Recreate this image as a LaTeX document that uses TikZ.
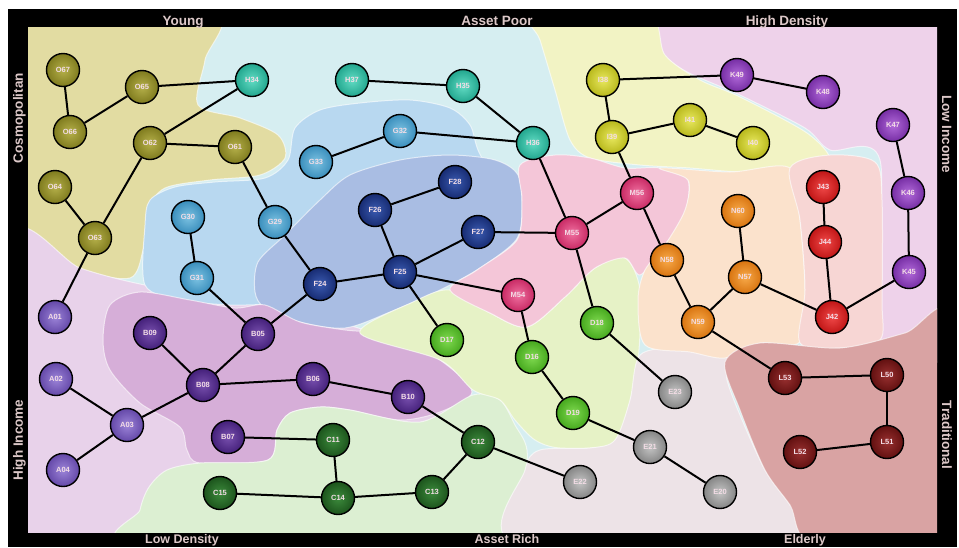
\documentclass[tikz,border=0pt]{standalone}
\usepackage{fontspec}
\setmainfont{Liberation Sans}
\definecolor{cH}{HTML}{D6EEF1}
\definecolor{cO}{HTML}{E2DCA2}
\definecolor{cG}{HTML}{B8D8F0}
\definecolor{cF}{HTML}{A9BDE3}
\definecolor{cA}{HTML}{E8D2EA}
\definecolor{cB}{HTML}{D6AED8}
\definecolor{cC}{HTML}{DCEFD2}
\definecolor{cD}{HTML}{E6F2C6}
\definecolor{cE}{HTML}{EDE3E7}
\definecolor{cM}{HTML}{F4C6D8}
\definecolor{cN}{HTML}{FBE2CC}
\definecolor{cJ}{HTML}{F7D6D4}
\definecolor{cK}{HTML}{EED2EA}
\definecolor{cI}{HTML}{F2F3C4}
\definecolor{cL}{HTML}{D9A3A3}
\definecolor{labelc}{HTML}{DCC8C8}
\definecolor{ntext}{HTML}{F3DDE6}
\definecolor{nO}{HTML}{7F7B1E}\definecolor{nOi}{HTML}{B5B04A}
\definecolor{nH}{HTML}{22A68E}\definecolor{nHi}{HTML}{62DCC4}
\definecolor{nG}{HTML}{3A8EBC}\definecolor{nGi}{HTML}{7CC2E2}
\definecolor{nF}{HTML}{172B72}\definecolor{nFi}{HTML}{3A5AB0}
\definecolor{nB}{HTML}{44207A}\definecolor{nBi}{HTML}{7850AE}
\definecolor{nA}{HTML}{6448A8}\definecolor{nAi}{HTML}{9C84D8}
\definecolor{nC}{HTML}{1C541C}\definecolor{nCi}{HTML}{3C8A3C}
\definecolor{nD}{HTML}{46A81E}\definecolor{nDi}{HTML}{80DA50}
\definecolor{nE}{HTML}{858585}\definecolor{nEi}{HTML}{C4C4C4}
\definecolor{nM}{HTML}{C82A64}\definecolor{nMi}{HTML}{F070A0}
\definecolor{nN}{HTML}{D87410}\definecolor{nNi}{HTML}{F8AA4A}
\definecolor{nJ}{HTML}{C01616}\definecolor{nJi}{HTML}{F04848}
\definecolor{nK}{HTML}{762EA4}\definecolor{nKi}{HTML}{B26ADA}
\definecolor{nL}{HTML}{621010}\definecolor{nLi}{HTML}{983030}
\definecolor{nI}{HTML}{B8B81C}\definecolor{nIi}{HTML}{E8E85E}
\begin{document}
\begin{tikzpicture}[x=1pt,y=-1pt,
  region/.style={fill=#1, draw=white, draw opacity=0.6, line width=1pt},
  nd/.style={circle, draw=black, line width=1.4pt, minimum size=33pt, inner sep=0pt,
    font=\fontsize{7.5}{7.5}\selectfont\bfseries, text=ntext},
  ball/.style={nd, inner color=n#1i, outer color=n#1},
  edge/.style={line width=2pt, black},
  axislab/.style={font=\fontsize{13.5}{13.5}\selectfont\bfseries, text=labelc, inner sep=0pt},
  botlab/.style={font=\fontsize{12.5}{12.5}\selectfont\bfseries, text=labelc, inner sep=0pt}]
\useasboundingbox (0,0) rectangle (959,547);
\fill[white] (0,0) rectangle (959,547);
\fill[black] (8,9) rectangle (957,547);
\begin{scope}
\clip (28,27) rectangle (937,532);
\fill[cH] (28,27) rectangle (937,532);
% K
\path[region=cK] plot[smooth cycle, tension=0.5] coordinates {(640,10) (950,10) (950,340) (880,340) (880,160) (830,150) (805,128) (740,95) (673,63)};
% I
\path[region=cI] plot[smooth cycle, tension=0.5] coordinates {(530,10) (645,10) (665,55) (700,80) (740,97) (807,133) (830,160) (800,172) (740,172) (690,168) (640,165) (590,158) (570,140) (555,90) (540,40)};
% O
\path[region=cO] plot[smooth cycle, tension=0.5] coordinates {(10,10) (212,10) (205,60) (198,105) (240,118) (278,135) (285,158) (260,175) (210,180) (165,188) (148,210) (143,250) (130,278) (80,270) (10,242)};
% A
\path[region=cA] plot[smooth cycle, tension=0.5] coordinates {(10,240) (80,268) (140,284) (230,300) (330,320) (420,350) (470,390) (400,440) (280,470) (200,545) (10,545)};
% G
\path[region=cG] plot[smooth cycle, tension=0.5] coordinates {(145,225) (150,200) (175,187) (215,182) (265,178) (288,160) (295,128) (320,110) (360,103) (410,100) (450,108) (470,125) (478,150) (500,200) (480,260) (400,300) (330,315) (280,305) (230,305) (180,300) (145,285)};
% F
\path[region=cF] plot[smooth cycle, tension=0.5] coordinates {(255,292) (258,262) (285,235) (320,200) (350,175) (400,160) (450,155) (495,160) (518,175) (522,210) (516,240) (480,268) (440,290) (390,312) (345,328) (300,322) (265,308)};
% B
\path[region=cB] plot[smooth cycle, tension=0.5] coordinates {(103,340) (110,305) (140,292) (190,300) (235,308) (265,305) (300,322) (345,330) (390,335) (440,360) (472,392) (440,412) (400,420) (350,410) (320,407) (290,413) (277,430) (268,460) (200,463) (187,450) (180,427) (140,403) (110,370)};
% C
\path[region=cC] plot[smooth cycle, tension=0.5] coordinates {(137,545) (140,510) (149,487) (167,470) (200,463) (268,460) (277,430) (290,413) (320,407) (350,410) (420,422) (473,395) (500,400) (515,425) (527,450) (525,500) (520,545)};
% D
\path[region=cD] plot[smooth cycle, tension=0.5] coordinates {(360,333) (413,302) (450,290) (490,313) (527,327) (565,297) (595,268) (625,258) (640,290) (638,360) (625,420) (610,445) (560,448) (535,440) (515,420) (500,400) (473,390) (440,360)};
% E
\path[region=cE] plot[smooth cycle, tension=0.5] coordinates {(518,545) (525,470) (540,450) (590,448) (615,440) (630,400) (640,355) (680,348) (725,355) (727,380) (740,415) (765,470) (790,505) (815,545)};
% M
\path[region=cM] plot[smooth cycle, tension=0.5] coordinates {(520,165) (555,155) (590,158) (625,168) (660,168) (688,180) (683,220) (660,250) (640,275) (625,258) (595,268) (565,297) (527,327) (490,313) (450,290) (477,270) (517,240) (522,200)};
% N
\path[region=cN] plot[smooth cycle, tension=0.5] coordinates {(660,168) (730,172) (790,168) (800,220) (805,290) (800,342) (760,343) (725,358) (690,352) (645,345) (638,300) (645,270) (665,245) (685,210) (688,180)};
% J
\path[region=cJ] plot[smooth cycle, tension=0.5] coordinates {(790,168) (830,155) (875,162) (882,200) (882,300) (880,340) (840,348) (800,343) (805,290) (800,220)};
% L
\path[region=cL] plot[smooth cycle, tension=0.5] coordinates {(950,318) (905,333) (840,348) (760,343) (725,362) (740,410) (765,470) (790,505) (815,545) (950,545)};
\end{scope}
% axis labels
\node[axislab, anchor=base] (young) at (183,25) {Young};
\node[axislab, anchor=base] (assetpoor) at (497,25) {Asset Poor};
\node[axislab, anchor=base] (highdens) at (787,25) {High Density};
\node[botlab, anchor=base] (lowdens) at (182,543) {Low Density};
\node[botlab, anchor=base] (assetrich) at (507,543) {Asset Rich};
\node[botlab, anchor=base] (elderly) at (805,543) {Elderly};
\node[axislab, anchor=base, rotate=90] (cosmo) at (23,118) {Cosmopolitan};
\node[axislab, anchor=base, rotate=90] (highinc) at (23,440) {High Income};
\node[axislab, anchor=base, rotate=-90] (lowinc) at (942,134) {Low Income};
\node[axislab, anchor=base, rotate=-90] (trad) at (942,435) {Traditional};
% nodes
\node[ball=O] (O67) at (63,70) {O67};
\node[ball=O] (O65) at (142,87) {O65};
\node[ball=O] (O66) at (70,132) {O66};
\node[ball=O] (O62) at (150,143) {O62};
\node[ball=O] (O61) at (235,147) {O61};
\node[ball=O] (O64) at (55,187) {O64};
\node[ball=O] (O63) at (95,238) {O63};
\node[ball=H] (H34) at (252,80) {H34};
\node[ball=H] (H37) at (352,80) {H37};
\node[ball=H] (H35) at (463,86) {H35};
\node[ball=H] (H36) at (533,143) {H36};
\node[ball=G] (G32) at (400,131) {G32};
\node[ball=G] (G33) at (316,162) {G33};
\node[ball=G] (G30) at (188,217) {G30};
\node[ball=G] (G29) at (275,222) {G29};
\node[ball=G] (G31) at (197,278) {G31};
\node[ball=F] (F28) at (455,182) {F28};
\node[ball=F] (F26) at (375,210) {F26};
\node[ball=F] (F27) at (478,232) {F27};
\node[ball=F] (F25) at (400,272) {F25};
\node[ball=F] (F24) at (320,284) {F24};
\node[ball=A] (A01) at (55,317) {A01};
\node[ball=A] (A02) at (56,379) {A02};
\node[ball=A] (A03) at (127,425) {A03};
\node[ball=A] (A04) at (63,470) {A04};
\node[ball=B] (B09) at (150,333) {B09};
\node[ball=B] (B05) at (258,334) {B05};
\node[ball=B] (B08) at (203,385) {B08};
\node[ball=B] (B06) at (313,379) {B06};
\node[ball=B] (B10) at (408,397) {B10};
\node[ball=B] (B07) at (228,437) {B07};
\node[ball=C] (C11) at (333,440) {C11};
\node[ball=C] (C12) at (478,442) {C12};
\node[ball=C] (C13) at (432,492) {C13};
\node[ball=C] (C14) at (338,498) {C14};
\node[ball=C] (C15) at (220,493) {C15};
\node[ball=D] (D17) at (447,340) {D17};
\node[ball=D] (D16) at (532,357) {D16};
\node[ball=D] (D18) at (597,323) {D18};
\node[ball=D] (D19) at (573,413) {D19};
\node[ball=E] (E23) at (675,392) {E23};
\node[ball=E] (E21) at (650,447) {E21};
\node[ball=E] (E20) at (720,492) {E20};
\node[ball=E] (E22) at (580,482) {E22};
\node[ball=M] (M56) at (637,193) {M56};
\node[ball=M] (M55) at (572,233) {M55};
\node[ball=M] (M54) at (518,295) {M54};
\node[ball=I] (I38) at (603,80) {I38};
\node[ball=I] (I39) at (612,137) {I39};
\node[ball=I] (I41) at (690,120) {I41};
\node[ball=I] (I40) at (753,143) {I40};
\node[ball=N] (N60) at (738,211) {N60};
\node[ball=N] (N58) at (667,260) {N58};
\node[ball=N] (N57) at (745,277) {N57};
\node[ball=N] (N59) at (698,322) {N59};
\node[ball=J] (J43) at (823,187) {J43};
\node[ball=J] (J44) at (825,242) {J44};
\node[ball=J] (J42) at (832,317) {J42};
\node[ball=K] (K49) at (737,75) {K49};
\node[ball=K] (K48) at (823,92) {K48};
\node[ball=K] (K47) at (893,125) {K47};
\node[ball=K] (K46) at (908,193) {K46};
\node[ball=K] (K45) at (909,272) {K45};
\node[ball=L] (L53) at (785,378) {L53};
\node[ball=L] (L50) at (887,375) {L50};
\node[ball=L] (L51) at (887,442) {L51};
\node[ball=L] (L52) at (800,452) {L52};
% edges
\draw[edge] (O67) -- (O66);
\draw[edge] (O66) -- (O65);
\draw[edge] (O65) -- (H34);
\draw[edge] (H34) -- (O62);
\draw[edge] (O62) -- (O61);
\draw[edge] (O62) -- (O63);
\draw[edge] (O64) -- (O63);
\draw[edge] (O63) -- (A01);
\draw[edge] (O61) -- (G29);
\draw[edge] (G29) -- (F24);
\draw[edge] (G30) -- (G31);
\draw[edge] (G31) -- (B05);
\draw[edge] (B05) -- (F24);
\draw[edge] (B05) -- (B08);
\draw[edge] (B09) -- (B08);
\draw[edge] (B08) -- (A03);
\draw[edge] (A02) -- (A03);
\draw[edge] (A03) -- (A04);
\draw[edge] (B08) -- (B06);
\draw[edge] (B06) -- (B10);
\draw[edge] (B10) -- (C12);
\draw[edge] (B07) -- (C11);
\draw[edge] (C11) -- (C14);
\draw[edge] (C15) -- (C14);
\draw[edge] (C14) -- (C13);
\draw[edge] (C13) -- (C12);
\draw[edge] (C12) -- (E22);
\draw[edge] (F24) -- (F25);
\draw[edge] (F25) -- (F26);
\draw[edge] (F26) -- (F28);
\draw[edge] (F25) -- (F27);
\draw[edge] (F27) -- (M55);
\draw[edge] (F25) -- (M54);
\draw[edge] (F25) -- (D17);
\draw[edge] (M54) -- (D16);
\draw[edge] (D16) -- (D19);
\draw[edge] (D19) -- (E21);
\draw[edge] (E21) -- (E20);
\draw[edge] (M55) -- (D18);
\draw[edge] (D18) -- (E23);
\draw[edge] (M55) -- (H36);
\draw[edge] (M55) -- (M56);
\draw[edge] (H36) -- (H35);
\draw[edge] (H35) -- (H37);
\draw[edge] (H36) -- (G32);
\draw[edge] (G32) -- (G33);
\draw[edge] (M56) -- (I39);
\draw[edge] (I39) -- (I38);
\draw[edge] (I38) -- (K49);
\draw[edge] (K49) -- (K48);
\draw[edge] (I39) -- (I41);
\draw[edge] (I41) -- (I40);
\draw[edge] (M56) -- (N58);
\draw[edge] (N58) -- (N59);
\draw[edge] (N59) -- (N57);
\draw[edge] (N57) -- (N60);
\draw[edge] (N57) -- (J42);
\draw[edge] (N59) -- (L53);
\draw[edge] (L53) -- (L50);
\draw[edge] (L50) -- (L51);
\draw[edge] (L51) -- (L52);
\draw[edge] (J42) -- (J44);
\draw[edge] (J44) -- (J43);
\draw[edge] (J42) -- (K45);
\draw[edge] (K45) -- (K46);
\draw[edge] (K46) -- (K47);
\end{tikzpicture}
\end{document}
